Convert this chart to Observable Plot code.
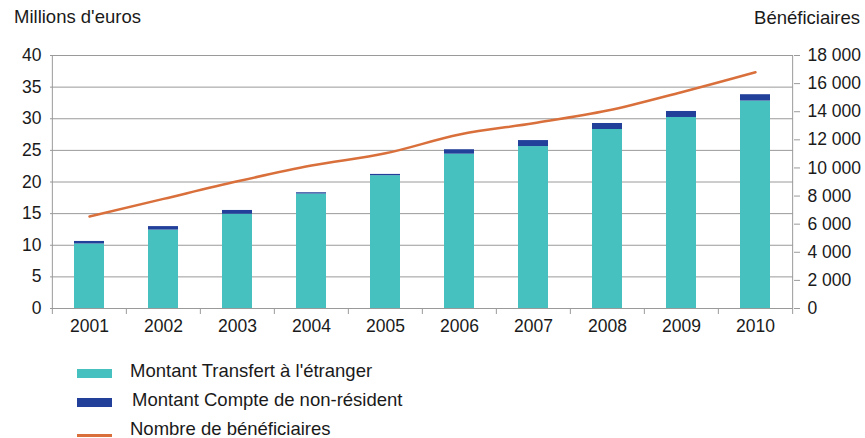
<!DOCTYPE html>
<html>
<head>
<meta charset="utf-8">
<script src="https://cdn.jsdelivr.net/npm/d3@7"></script>
<script src="https://cdn.jsdelivr.net/npm/@observablehq/plot@0.6"></script>
<style>
  html, body { margin: 0; padding: 0; background: #fff; }
  body { font-family: "Liberation Sans", Arial, Helvetica, sans-serif; color: #1a1a1a; }
  #wrap { position: relative; width: 865px; height: 438px; }
  .ttl { position: absolute; font-size: 18.5px; line-height: 1; }
  .sw { position: absolute; left: 77px; width: 35px; }
  .lt { position: absolute; left: 130px; white-space: nowrap; font-size: 18.5px; line-height: 22px; }
</style>
</head>
<body>
<div id="wrap"></div>
<script>
const years = [2001, 2002, 2003, 2004, 2005, 2006, 2007, 2008, 2009, 2010];
const transfert = [10.2, 12.4, 14.9, 18.1, 21.0, 24.4, 25.6, 28.3, 30.2, 32.8];
const compte = [0.4, 0.55, 0.6, 0.2, 0.2, 0.7, 0.95, 0.95, 0.95, 1.0];
const beneficiaires = [6540, 7800, 9050, 10170, 11040, 12380, 13180, 14080, 15390, 16810];
const leftTicks = [0, 5, 10, 15, 20, 25, 30, 35, 40];
const rightTicks = [0, 2000, 4000, 6000, 8000, 10000, 12000, 14000, 16000, 18000];
const seriesNames = ["Montant Transfert à l'étranger", "Montant Compte de non-résident", "Nombre de bénéficiaires"];
const colors = ["#47C1BF", "#22409A", "#D9703C"];

const ratio = 18000 / 40;
const W = 865, H = 345, ML = 50, MR = 72, MT = 55, MB = 37;
const step = (W - ML - MR) / years.length;

const rows = years.map((y, i) => ({year: y, t: transfert[i], c: compte[i], tot: transfert[i] + compte[i], b: beneficiaires[i] / ratio}));
const fmt = v => d3.format(",")(v).replace(/,/g, " ");

const chart = Plot.plot({
  width: W, height: H,
  marginLeft: ML, marginRight: MR, marginTop: MT, marginBottom: MB,
  style: {fontFamily: '"Liberation Sans", Arial, Helvetica, sans-serif', fontSize: "17.5px", color: "#1a1a1a", background: "#fff"},
  x: {type: "band", domain: years, paddingInner: 0.6, paddingOuter: 0.3, axis: null},
  y: {domain: [0, 40], axis: null},
  marks: [
    Plot.gridY(leftTicks, {stroke: "#9a9a9a", strokeOpacity: 1, strokeWidth: 1}),
    Plot.ruleX(years, {x: d => d, dx: -step / 2, y1: 0, y2: 0, insetBottom: -6, stroke: "#9a9a9a"}),
    Plot.ruleX([years[years.length - 1]], {x: d => d, dx: step / 2, y1: 0, y2: 0, insetBottom: -6, stroke: "#9a9a9a"}),
    Plot.ruleX([years[0]], {x: d => d, dx: -step / 2, y1: 0, y2: 40, stroke: "#9a9a9a"}),
    Plot.ruleX([years[years.length - 1]], {x: d => d, dx: step / 2, y1: 0, y2: 40, stroke: "#9a9a9a"}),
    Plot.barY(rows, {x: "year", y1: 0, y2: "t", fill: colors[0]}),
    Plot.barY(rows, {x: "year", y1: "t", y2: "tot", fill: colors[1]}),
    Plot.line(rows, {x: "year", y: "b", stroke: colors[2], strokeWidth: 2.5, curve: "monotone-x"}),
    Plot.axisY(leftTicks, {anchor: "left", tickSize: 0, tickPadding: 9, label: null, fontSize: 17.5}),
    Plot.axisY(rightTicks.map(v => v / ratio), {anchor: "right", tickSize: 6, tickPadding: 8, stroke: "#9a9a9a", label: null, fontSize: 17.5, tickFormat: d => fmt(Math.round(d * ratio))}),
    Plot.axisX(years, {tickSize: 0, tickPadding: 11, label: null, fontSize: 17.5, tickFormat: d => String(d)})
  ]
});

const wrap = document.getElementById("wrap");
wrap.appendChild(chart);

const t1 = document.createElement("div");
t1.className = "ttl"; t1.style.left = "14px"; t1.style.top = "8px"; t1.textContent = "Millions d'euros";
wrap.appendChild(t1);
const t2 = document.createElement("div");
t2.className = "ttl"; t2.style.right = "5px"; t2.style.top = "9px"; t2.textContent = "Bénéficiaires";
wrap.appendChild(t2);

const legY = [372, 401, 430];
const swH = [9, 9, 3];
const txtX = [130, 132, 130];
seriesNames.forEach((name, i) => {
  const sw = document.createElement("div");
  sw.className = "sw";
  sw.style.top = (legY[i] + (i === 2 ? 5 : 1) - swH[i] / 2) + "px";
  sw.style.height = swH[i] + "px";
  sw.style.background = colors[i];
  wrap.appendChild(sw);
  const lt = document.createElement("div");
  lt.className = "lt";
  lt.style.left = txtX[i] + "px";
  lt.style.top = (legY[i] - 12) + "px";
  lt.textContent = name;
  wrap.appendChild(lt);
});
</script>
</body>
</html>
